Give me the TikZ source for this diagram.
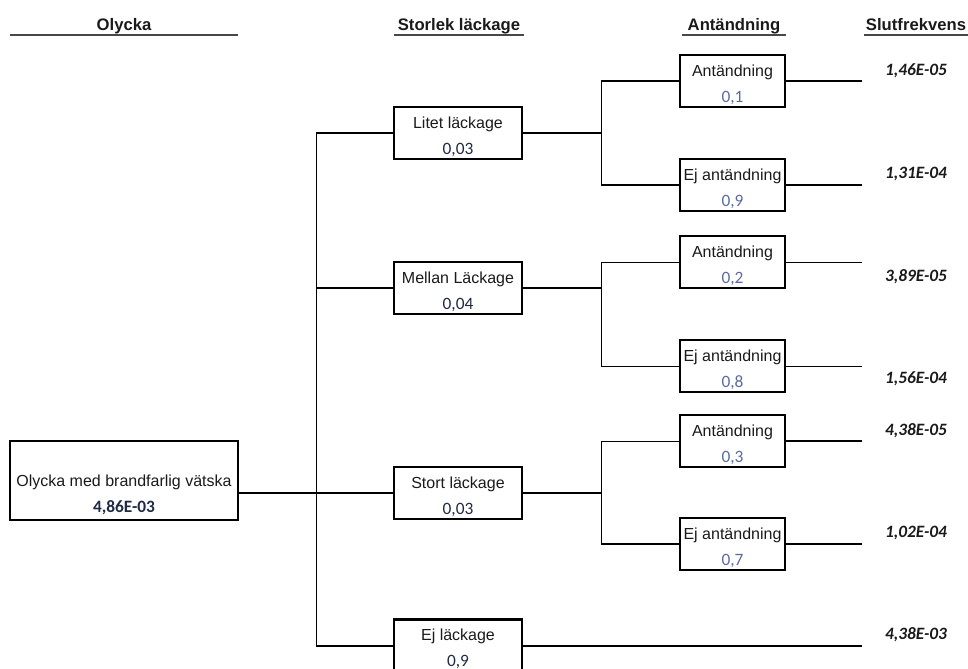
\documentclass[tikz,border=0pt]{standalone}
\usepackage{fontspec}
\setmainfont{Liberation Sans}
\newfontfamily\calfont{Carlito}
\usetikzlibrary{positioning}
\definecolor{ink}{HTML}{1A1A1A}
\definecolor{navy}{HTML}{1F2A44}
\definecolor{probblue}{HTML}{5B6B9E}
\newcommand{\leakprob}[1]{{\calfont\fontsize{13}{19.5}\selectfont\color{navy}#1}}
\newcommand{\ignprob}[1]{{\calfont\fontsize{13}{19.5}\selectfont\color{probblue}#1}}

\begin{document}
\begin{tikzpicture}[
    x=0.75pt, y=-0.75pt,
    header/.style={anchor=south, inner xsep=0pt, inner ysep=3pt, text depth=0pt, font=\fontsize{12.5}{15}\selectfont\bfseries, text=ink},
    underbar/.style={line width=1pt, draw=ink!80},
    evbox/.style={draw, line width=1.6pt, align=center, inner sep=1pt, minimum width=96pt, minimum height=39pt, text height=31.5pt, text depth=0pt, font=\fontsize{12}{19.5}\selectfont, text=ink},
    ignbox/.style={evbox, minimum width=78.75pt},
    rootbox/.style={evbox, minimum width=171pt, minimum height=59.25pt, text height=47.25pt},
    outcome/.style={font=\calfont\fontsize{13}{15}\selectfont\bfseries\itshape, text=ink},
    branch/.style={line width=1.5pt},
    twig/.style={line width=0.75pt}
]
\useasboundingbox (0,0) rectangle (968,668);
\node[header, minimum width=171pt] (hAccident) at (124,35) {Olycka};
\node[header, minimum width=97.5pt] (hLeak) at (459,35) {Storlek läckage};
\node[header, minimum width=78pt] (hIgnition) at (734,35) {Antändning};
\node[header, minimum width=78pt] (hFreq) at (916,35) {Slutfrekvens};
\draw[underbar] (hAccident.south west) -- (hAccident.south east);
\draw[underbar] (hLeak.south west) -- (hLeak.south east);
\draw[underbar] (hIgnition.south west) -- (hIgnition.south east);
\draw[underbar] (hFreq.south west) -- (hFreq.south east);

\node[rootbox] (accident) at (124,480.5) {Olycka med brandfarlig vätska\\{\calfont\fontsize{13}{19.5}\selectfont\bfseries\color{navy}4,86E-03}};

\node[evbox] (small) at (458,133) {Litet läckage\\\leakprob{0,03}};
\node[evbox] (medium) at (458,288) {Mellan Läckage\\\leakprob{0,04}};
\node[evbox] (large) at (458,493) {Stort läckage\\\leakprob{0,03}};
\node[evbox] (noleak) at (458,645.5) {Ej läckage\\\leakprob{0,9}};

\node[ignbox] (ign1) at (732.5,81) {Antändning\\\ignprob{0,1}};
\node[ignbox] (noign1) at (732.5,185) {Ej antändning\\\ignprob{0,9}};
\node[ignbox] (ign2) at (732.5,262) {Antändning\\\ignprob{0,2}};
\node[ignbox] (noign2) at (732.5,366) {Ej antändning\\\ignprob{0,8}};
\node[ignbox] (ign3) at (732.5,441) {Antändning\\\ignprob{0,3}};
\node[ignbox] (noign3) at (732.5,544) {Ej antändning\\\ignprob{0,7}};

\node[outcome] (f1) at (916,71) {1,46E-05};
\node[outcome] (f2) at (916,174) {1,31E-04};
\node[outcome] (f3) at (916,277) {3,89E-05};
\node[outcome] (f4) at (916,379) {1,56E-04};
\node[outcome] (f5) at (916,431) {4,38E-05};
\node[outcome] (f6) at (916,533) {1,02E-04};
\node[outcome] (f7) at (916,635) {4,38E-03};

\coordinate (trunk) at (316,493);
\coordinate (fork) at (601,0);
\coordinate (tip) at (862,0);

\draw[branch] (accident.east |- trunk) -- (trunk);
\draw[twig] (trunk |- small.west) -- (trunk |- noleak.west);
\draw[branch] (trunk |- small.west) -- (small.west);
\draw[branch] (trunk |- medium.west) -- (medium.west);
\draw[branch] (trunk |- large.west) -- (large.west);
\draw[branch] (trunk |- noleak.west) -- (noleak.west);

\draw[branch] (small.east) -- (small.east -| fork);
\draw[twig] (fork |- ign1.west) -- (fork |- noign1.west);
\draw[branch] (fork |- ign1.west) -- (ign1.west);
\draw[branch] (fork |- noign1.west) -- (noign1.west);
\draw[branch] (ign1.east) -- (ign1.east -| tip);
\draw[branch] (noign1.east) -- (noign1.east -| tip);

\draw[branch] (medium.east) -- (medium.east -| fork);
\draw[twig] (fork |- ign2.west) -- (fork |- noign2.west);
\draw[twig] (fork |- ign2.west) -- (ign2.west);
\draw[twig] (fork |- noign2.west) -- (noign2.west);
\draw[twig] (ign2.east) -- (ign2.east -| tip);
\draw[twig] (noign2.east) -- (noign2.east -| tip);

\draw[branch] (large.east) -- (large.east -| fork);
\draw[twig] (fork |- ign3.west) -- (fork |- noign3.west);
\draw[twig] (fork |- ign3.west) -- (ign3.west);
\draw[branch] (fork |- noign3.west) -- (noign3.west);
\draw[branch] (ign3.east) -- (ign3.east -| tip);
\draw[branch] (noign3.east) -- (noign3.east -| tip);

\draw[branch] (noleak.east) -- (noleak.east -| tip);
\end{tikzpicture}
\end{document}
